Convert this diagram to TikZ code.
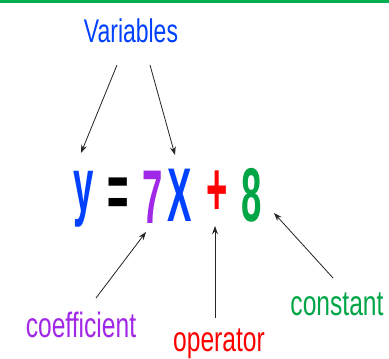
\documentclass[tikz,border=0pt]{standalone}
\usepackage{fontspec}
\usepackage{xcolor}
\usepackage{tikz}
\usetikzlibrary{arrows.meta}
\newfontfamily\handfont[FakeStretch=0.7]{Liberation Sans}
\newfontfamily\eqfont[FakeStretch=0.48]{Liberation Sans Bold}

\definecolor{varblue}{RGB}{0,64,255}
\definecolor{coefpurple}{RGB}{160,40,230}
\definecolor{oprred}{RGB}{255,0,0}
\definecolor{constgreen}{RGB}{0,165,70}
\definecolor{bargreen}{RGB}{0,176,80}

\tikzset{
  label/.style={inner sep=0pt, font=\handfont\fontsize{30}{30}\selectfont},
  eqchar/.style={inner sep=0pt, font=\eqfont\fontsize{65}{65}\selectfont},
  arr/.style={-{Stealth[length=7pt,width=5pt]}, line width=0.7pt, black!85}
}

\begin{document}
\begin{tikzpicture}[x=0.03cm, y=-0.03cm]
  \useasboundingbox (0,0) rectangle (389,358);
  \fill[bargreen] (0,0) rectangle (389,3);

  % the equation
  \node[eqchar, varblue]    (y)     at (83.5,199) {y};
  \node[eqchar, black]      (eq)    at (118,198)  {=};
  \node[eqchar, coefpurple] (seven) at (153,197)  {7};
  \node[eqchar, varblue]    (x)     at (179.5,195) {X};
  \node[eqchar, oprred]     (plus)  at (217,193)  {+};
  \node[eqchar, constgreen] (eight) at (252,195)  {8};

  % the labels
  \node[label, varblue, font=\handfont\fontsize{28}{28}\selectfont] (var) at (131,31) {Variables};
  \node[label, coefpurple] (coef)  at (81,325)  {coefficient};
  \node[label, oprred]     (opr)   at (219,344) {operator};
  \node[label, constgreen] (const) at (337,304) {constant};

  \coordinate (varL)   at (117,65);
  \coordinate (varR)   at (150,65);
  \coordinate (yTip)   at (81,153);
  \coordinate (xTip)   at (175,155);
  \coordinate (coefT)  at (96,298);
  \coordinate (sevenT) at (146,232);
  \coordinate (oprT)   at (215,318);
  \coordinate (plusT)  at (215,226);
  \coordinate (constT) at (333,278);
  \coordinate (eightT) at (274,213);

  \draw[arr] (varL) -- (yTip);
  \draw[arr] (varR) -- (xTip);
  \draw[arr] (coefT) -- (sevenT);
  \draw[arr] (oprT) -- (plusT);
  \draw[arr] (constT) -- (eightT);
\end{tikzpicture}
\end{document}
